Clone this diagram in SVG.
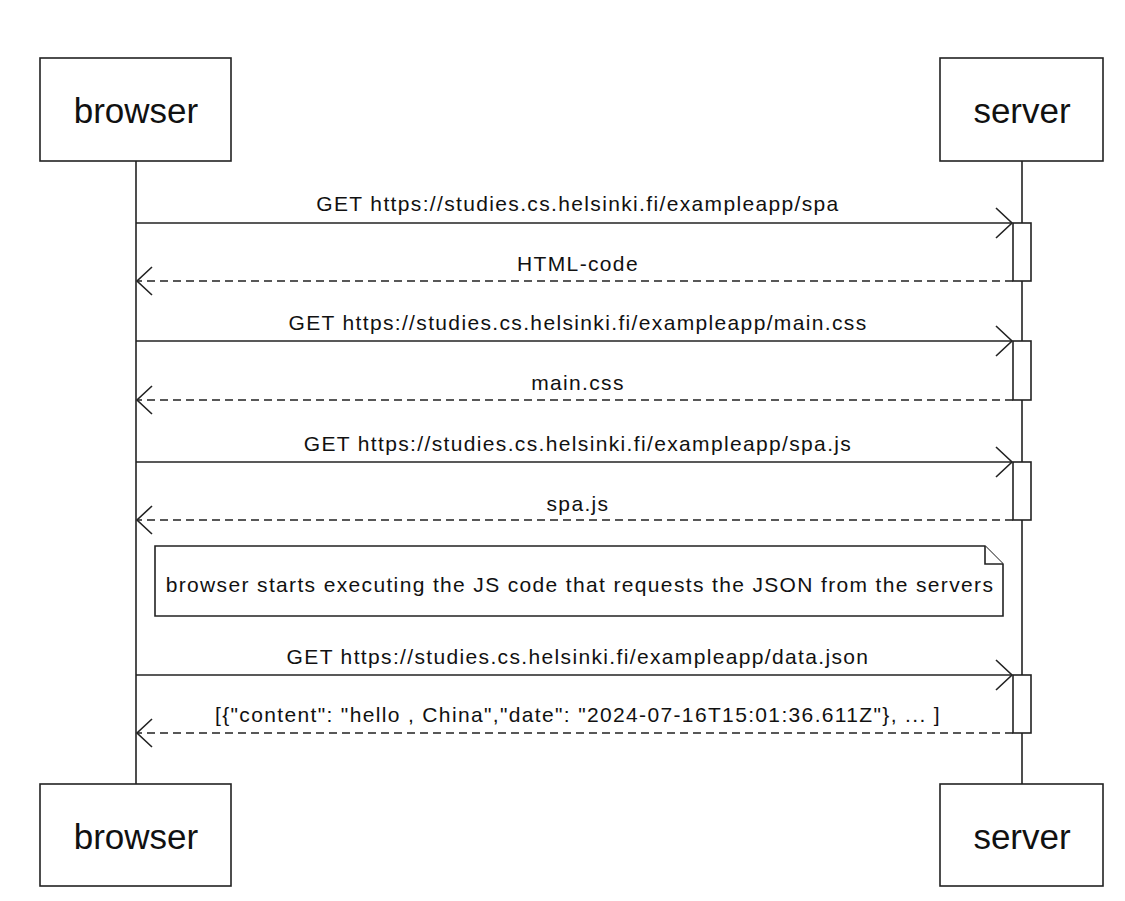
<svg xmlns="http://www.w3.org/2000/svg" width="1125" height="901" viewBox="0 0 1125 901">
<style>
.actor rect{fill:#fff;stroke:#222;stroke-width:1.6}
.actor text{font-family:"Liberation Sans",Arial,sans-serif;font-size:35px;fill:#111;text-anchor:middle}
.life{stroke:#222;stroke-width:1.6}
.act{fill:#fff;stroke:#222;stroke-width:1.6}
.msg{stroke:#222;stroke-width:1.6;fill:none}
.dash{stroke-dasharray:8 5}
.head{stroke:#222;stroke-width:1.6;fill:none}
.lbl{font-family:"Liberation Sans",Arial,sans-serif;font-size:21px;letter-spacing:1.35px;fill:#111;text-anchor:middle}
.note{fill:#fff;stroke:#222;stroke-width:1.6}
</style>
<rect width="1125" height="901" fill="#fff"/>
<g id="lifelines">
<line class="life" x1="136" y1="161" x2="136" y2="784"/>
<line class="life" x1="1022" y1="161" x2="1022" y2="784"/>
</g>
<g id="actor-browser-top" class="actor"><rect x="40" y="58" width="191" height="103"/><text x="136" y="123">browser</text></g>
<g id="actor-server-top" class="actor"><rect x="940" y="58" width="163" height="103"/><text x="1022" y="123">server</text></g>
<g id="actor-browser-bottom" class="actor"><rect x="40" y="784" width="191" height="102"/><text x="136" y="849">browser</text></g>
<g id="actor-server-bottom" class="actor"><rect x="940" y="784" width="163" height="102"/><text x="1022" y="849">server</text></g>
<g id="activations">
<rect class="act" x="1013" y="223" width="18" height="58"/>
<rect class="act" x="1013" y="341" width="18" height="59"/>
<rect class="act" x="1013" y="462" width="18" height="58"/>
<rect class="act" x="1013" y="675" width="18" height="58"/>
</g>
<g id="note">
<path class="note" d="M155 546 H985 L1003 564 V616 H155 Z"/>
<path class="note" d="M985 546 V564 H1003"/>
<text class="lbl" x="580" y="592">browser starts executing the JS code that requests the JSON from the servers</text>
</g>
<g id="connectors">
<line class="msg" x1="136" y1="223" x2="1012" y2="223"/>
<polyline class="head" points="996,208 1012,223 996,238"/>
<line class="msg dash" x1="1013" y1="281" x2="137" y2="281"/>
<polyline class="head" points="152,267 137,281 152,295"/>
<line class="msg" x1="136" y1="341" x2="1012" y2="341"/>
<polyline class="head" points="996,326 1012,341 996,356"/>
<line class="msg dash" x1="1013" y1="400" x2="137" y2="400"/>
<polyline class="head" points="152,386 137,400 152,414"/>
<line class="msg" x1="136" y1="462" x2="1012" y2="462"/>
<polyline class="head" points="996,447 1012,462 996,477"/>
<line class="msg dash" x1="1013" y1="520" x2="137" y2="520"/>
<polyline class="head" points="152,506 137,520 152,534"/>
<line class="msg" x1="136" y1="675" x2="1012" y2="675"/>
<polyline class="head" points="996,660 1012,675 996,690"/>
<line class="msg dash" x1="1013" y1="733" x2="137" y2="733"/>
<polyline class="head" points="152,719 137,733 152,747"/>
</g>
<g id="labels">
<text class="lbl" x="578" y="211">GET https://studies.cs.helsinki.fi/exampleapp/spa</text>
<text class="lbl" x="578" y="271">HTML-code</text>
<text class="lbl" x="578" y="330">GET https://studies.cs.helsinki.fi/exampleapp/main.css</text>
<text class="lbl" x="578" y="390">main.css</text>
<text class="lbl" x="578" y="451">GET https://studies.cs.helsinki.fi/exampleapp/spa.js</text>
<text class="lbl" x="578" y="511">spa.js</text>
<text class="lbl" x="578" y="664">GET https://studies.cs.helsinki.fi/exampleapp/data.json</text>
<text class="lbl" x="578" y="722">[{"content": "hello , China","date": "2024-07-16T15:01:36.611Z"}, ... ]</text>
</g>
</svg>
